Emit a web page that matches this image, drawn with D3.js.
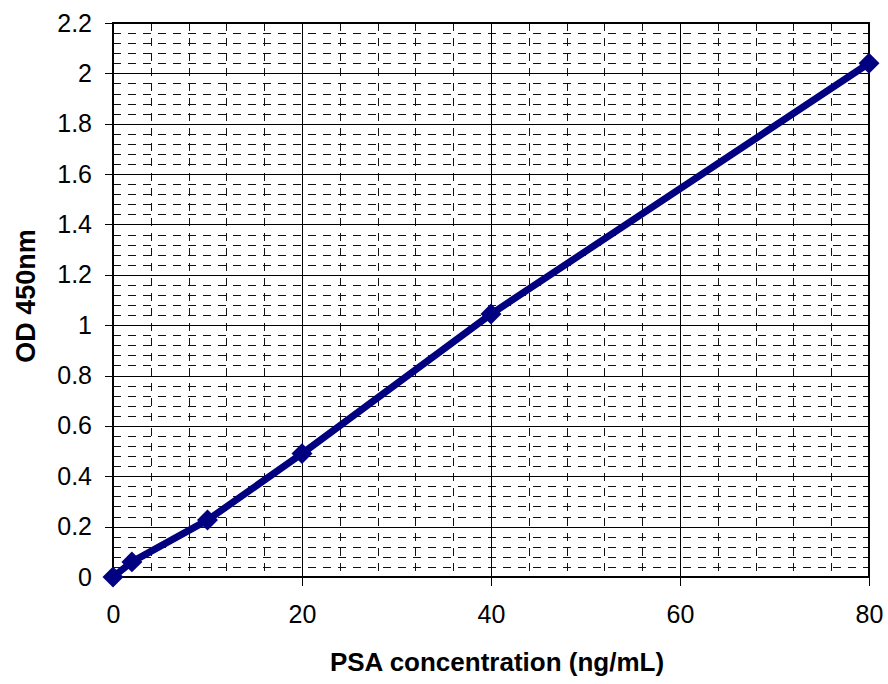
<!DOCTYPE html>
<html lang="en">
<head>
    <meta charset="UTF-8">
    <title>PSA standard curve</title>
    <style>
        body, html {
            margin: 0;
            background-color: #ffffff;
            font-family: "Liberation Sans", Arial, sans-serif;
        }
    </style>
    <script src="https://d3js.org/d3.v7.min.js"></script>
</head>
<body>
    <div id="chart"></div>
    <script>
        // data
        const concentration = [0, 2, 10, 20, 40, 80];
        const od450 = [0, 0.06, 0.226, 0.49, 1.044, 2.04];
        const xTicks = [0, 20, 40, 60, 80];
        const yTicks = [0, 0.2, 0.4, 0.6, 0.8, 1, 1.2, 1.4, 1.6, 1.8, 2, 2.2];

        const width = 888, height = 684;
        const margin = {top: 23, right: 19, bottom: 107, left: 113};

        const svg = d3.select("#chart").append("svg")
            .attr("width", width)
            .attr("height", height);

        const x = d3.scaleLinear().domain([0, 80]).range([margin.left, width - margin.right]);
        const y = d3.scaleLinear().domain([0, 2.2]).range([height - margin.bottom, margin.top]);

        const grid = svg.append("g").attr("shape-rendering", "crispEdges");

        // minor grid (dashed)
        const xMinor = d3.range(0, 81, 4).filter(v => v % 20 !== 0);
        const yMinor = d3.range(0, 56).map(i => i * 0.04).filter(v => Math.abs(v / 0.2 - Math.round(v / 0.2)) > 1e-6);

        grid.selectAll(".xminor").data(xMinor).enter().append("line")
            .attr("x1", d => Math.round(x(d)) + 0.5).attr("x2", d => Math.round(x(d)) + 0.5)
            .attr("y1", y(2.2)).attr("y2", y(0))
            .attr("stroke", "#111").attr("stroke-width", 1)
            .attr("stroke-dasharray", "8,7");

        grid.selectAll(".yminor").data(yMinor).enter().append("line")
            .attr("x1", x(0)).attr("x2", x(80))
            .attr("y1", d => Math.round(y(d)) + 0.5).attr("y2", d => Math.round(y(d)) + 0.5)
            .attr("stroke", "#111").attr("stroke-width", 1)
            .attr("stroke-dasharray", "8,7");

        // major grid
        grid.selectAll(".xmajor").data(xTicks).enter().append("line")
            .attr("x1", d => Math.round(x(d)) + 0.5).attr("x2", d => Math.round(x(d)) + 0.5)
            .attr("y1", y(2.2)).attr("y2", y(0))
            .attr("stroke", "#000").attr("stroke-width", 1);

        grid.selectAll(".ymajor").data(yTicks).enter().append("line")
            .attr("x1", x(0)).attr("x2", x(80))
            .attr("y1", d => Math.round(y(d)) + 0.5).attr("y2", d => Math.round(y(d)) + 0.5)
            .attr("stroke", "#000").attr("stroke-width", 1);

        // axes
        const xAxis = d3.axisBottom(x).tickValues(xTicks).tickSize(9).tickPadding(19).tickFormat(d3.format("d"));
        const yAxis = d3.axisLeft(y).tickValues(yTicks).tickSize(8).tickPadding(13).tickFormat(d => d3.format("")(+d.toFixed(1)));

        const gx = svg.append("g")
            .attr("transform", `translate(0,${y(0)})`)
            .call(xAxis);
        const gy = svg.append("g")
            .attr("transform", `translate(${x(0)},0)`)
            .call(yAxis);

        [gx, gy].forEach(g => {
            g.select(".domain").remove();
            g.selectAll(".tick line").attr("stroke", "#000").attr("shape-rendering", "crispEdges");
            g.selectAll("text")
                .attr("fill", "#000")
                .style("font-family", "'Liberation Sans', Arial, sans-serif")
                .style("font-size", "25px");
        });

        // plot frame
        svg.append("rect")
            .attr("x", x(0)).attr("y", y(2.2))
            .attr("width", x(80) - x(0)).attr("height", y(0) - y(2.2))
            .attr("fill", "none").attr("stroke", "#000").attr("stroke-width", 2.5)
            .attr("shape-rendering", "crispEdges");

        // series
        const points = concentration.map((c, i) => [c, od450[i]]);

        svg.append("path")
            .datum(points)
            .attr("fill", "none")
            .attr("stroke", "#000080")
            .attr("stroke-width", 7)
            .attr("stroke-linejoin", "round")
            .attr("d", d3.line().x(d => x(d[0])).y(d => y(d[1])));

        svg.selectAll(".marker").data(points).enter().append("path")
            .attr("transform", d => `translate(${x(d[0])},${y(d[1])})`)
            .attr("d", d3.symbol().type(d3.symbolDiamond2).size(280))
            .attr("fill", "#000080");

        // axis titles
        svg.append("text")
            .attr("x", (x(0) + x(80)) / 2 + 6)
            .attr("y", 671)
            .attr("text-anchor", "middle")
            .style("font-family", "'Liberation Sans', Arial, sans-serif")
            .style("font-size", "26px")
            .style("font-weight", "bold")
            .text("PSA concentration (ng/mL)");

        svg.append("text")
            .attr("transform", `translate(35,${(y(0) + y(2.2)) / 2 - 4}) rotate(-90)`)
            .attr("text-anchor", "middle")
            .style("font-family", "'Liberation Sans', Arial, sans-serif")
            .style("font-size", "27px")
            .style("font-weight", "bold")
            .text("OD 450nm");
    </script>
</body>
</html>
